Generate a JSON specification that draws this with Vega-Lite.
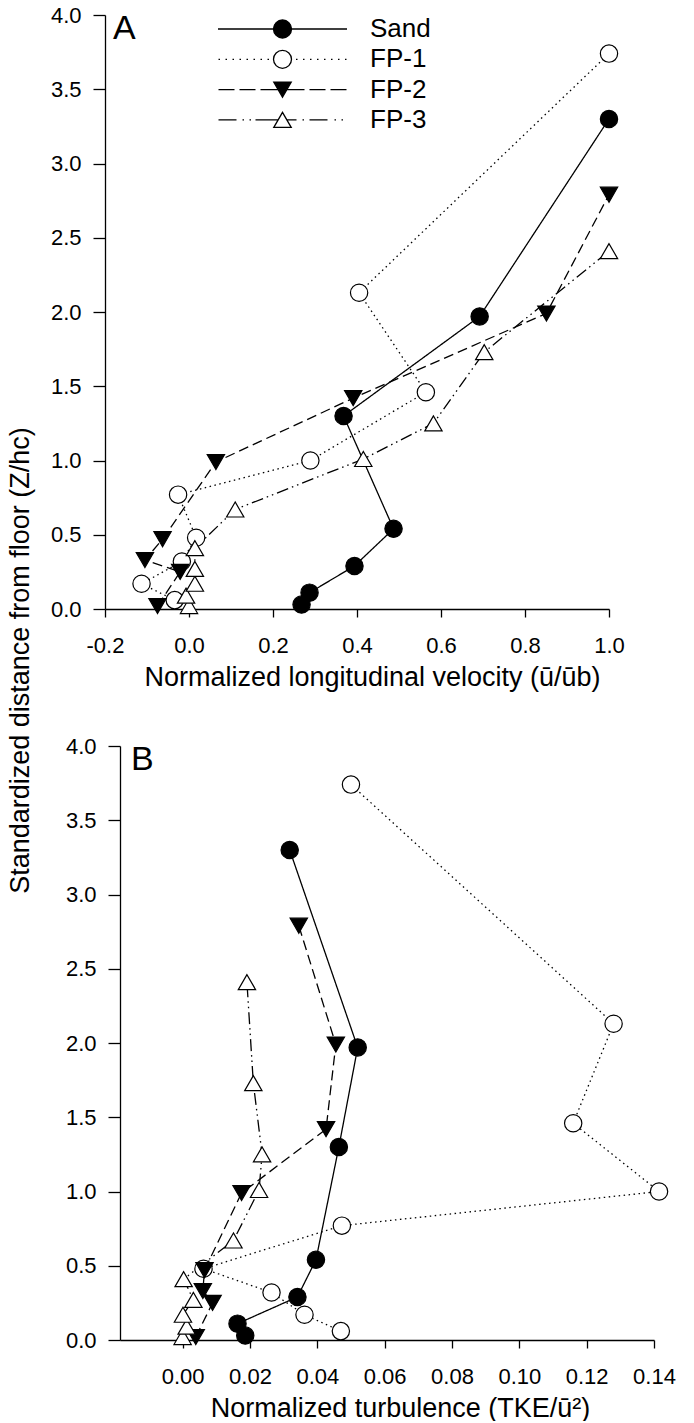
{
  "$schema": "https://vega.github.io/schema/vega-lite/v6.json",
  "background": "white",
  "padding": {"left": 6, "top": 4, "right": 0, "bottom": 0},
  "autosize": {"type": "pad"},
  "bounds": "flush",
  "spacing": 137,
  "config": {
    "font": "Liberation Sans",
    "view": {"stroke": null},
    "axis": {
      "grid": false,
      "labelFlush": false,
      "labelOverlap": false,
      "domainColor": "black", "domainWidth": 1.3,
      "tickColor": "black", "tickWidth": 1.3,
      "labelColor": "black", "labelFont": "Liberation Sans", "labelFontSize": 22,
      "titleColor": "black", "titleFont": "Liberation Sans", "titleFontSize": 27, "titleFontWeight": "normal"
    },
    "axisX": {"tickSize": 8, "labelPadding": 18, "titlePadding": 8},
    "axisY": {"tickSize": 12, "labelPadding": 12},
    "legend": {"labelFont": "Liberation Sans"},
    "title": {"font": "Liberation Sans", "fontWeight": "normal", "color": "black", "fontSize": 34}
  },
  "datasets": {
    "profiles": [
      {"series": "Sand", "z": 0.03, "u": 0.268, "tke": 0.0186},
      {"series": "Sand", "z": 0.11, "u": 0.287, "tke": 0.0163},
      {"series": "Sand", "z": 0.29, "u": 0.394, "tke": 0.0341},
      {"series": "Sand", "z": 0.54, "u": 0.487, "tke": 0.0396},
      {"series": "Sand", "z": 1.30, "u": 0.368, "tke": 0.0464},
      {"series": "Sand", "z": 1.97, "u": 0.692, "tke": 0.052},
      {"series": "Sand", "z": 3.30, "u": 1.0, "tke": 0.0318},
      {"series": "FP-1", "z": 0.06, "u": -0.034, "tke": 0.047},
      {"series": "FP-1", "z": 0.17, "u": -0.113, "tke": 0.0362},
      {"series": "FP-1", "z": 0.32, "u": -0.017, "tke": 0.0264},
      {"series": "FP-1", "z": 0.48, "u": 0.017, "tke": 0.0062},
      {"series": "FP-1", "z": 0.77, "u": -0.026, "tke": 0.0473},
      {"series": "FP-1", "z": 1.00, "u": 0.289, "tke": 0.1415},
      {"series": "FP-1", "z": 1.46, "u": 0.564, "tke": 0.116},
      {"series": "FP-1", "z": 2.13, "u": 0.405, "tke": 0.128},
      {"series": "FP-1", "z": 3.74, "u": 1.0, "tke": 0.050},
      {"series": "FP-2", "z": 0.02, "u": -0.075, "tke": 0.0039},
      {"series": "FP-2", "z": 0.25, "u": -0.021, "tke": 0.0089},
      {"series": "FP-2", "z": 0.33, "u": -0.105, "tke": 0.006},
      {"series": "FP-2", "z": 0.47, "u": -0.063, "tke": 0.0065},
      {"series": "FP-2", "z": 0.99, "u": 0.064, "tke": 0.0175},
      {"series": "FP-2", "z": 1.42, "u": 0.391, "tke": 0.0426},
      {"series": "FP-2", "z": 1.99, "u": 0.851, "tke": 0.0455},
      {"series": "FP-2", "z": 2.79, "u": 1.0, "tke": 0.0345},
      {"series": "FP-3", "z": 0.02, "u": 0.0, "tke": 0.0},
      {"series": "FP-3", "z": 0.09, "u": -0.007, "tke": 0.0012},
      {"series": "FP-3", "z": 0.17, "u": 0.014, "tke": 0.0001},
      {"series": "FP-3", "z": 0.27, "u": 0.014, "tke": 0.0032},
      {"series": "FP-3", "z": 0.41, "u": 0.014, "tke": 0.0003},
      {"series": "FP-3", "z": 0.67, "u": 0.11, "tke": 0.0151},
      {"series": "FP-3", "z": 1.01, "u": 0.415, "tke": 0.0227},
      {"series": "FP-3", "z": 1.25, "u": 0.582, "tke": 0.0236},
      {"series": "FP-3", "z": 1.73, "u": 0.703, "tke": 0.021},
      {"series": "FP-3", "z": 2.41, "u": 1.0, "tke": 0.0191}
    ]
  },
  "vconcat": [
    {
      "width": 504,
      "height": 594,
      "title": {"text": "A", "anchor": "start", "frame": "group", "orient": "top", "baseline": "top", "offset": 0, "dx": 8, "dy": 42},
      "encoding": {
        "x": {
          "field": "u", "type": "quantitative",
          "scale": {"domain": [-0.2, 1.0], "nice": false, "zero": false},
          "axis": {
            "values": [-0.2, 0, 0.2, 0.4, 0.6, 0.8, 1.0],
            "format": ".1f",
            "labelExpr": "replace(datum.label, '\u2212', '-')",
            "title": "Normalized longitudinal velocity (ū/ūb)",
            "titleX": 267
          }
        },
        "y": {
          "field": "z", "type": "quantitative",
          "scale": {"domain": [0, 4], "nice": false, "zero": false},
          "axis": {
            "values": [0, 0.5, 1, 1.5, 2, 2.5, 3, 3.5, 4],
            "format": ".1f",
            "title": "Standardized distance from floor (Z/hc)",
            "titleX": -77,
            "titleY": 645,
            "titleAngle": -90,
            "titleAlign": "center",
            "titleBaseline": "alphabetic"
          }
        }
      },
      "layer": [
        {
          "data": {"name": "profiles"},
          "mark": {"type": "line", "color": "black", "strokeWidth": 1.3},
          "encoding": {
            "order": {"field": "z", "type": "quantitative"},
            "strokeDash": {
              "field": "series", "type": "nominal",
              "sort": ["Sand", "FP-1", "FP-2", "FP-3"],
              "scale": {"range": [[1, 0], [1.5, 3.5], [10, 5], [12, 4, 1.5, 4, 1.5, 4]]},
              "legend": null
            }
          }
        },
        {
          "data": {"name": "profiles"},
          "mark": {"type": "point", "filled": true, "stroke": "black", "strokeWidth": 1.2, "size": 300, "opacity": 1},
          "encoding": {
            "shape": {
              "field": "series", "type": "nominal",
              "sort": ["Sand", "FP-1", "FP-2", "FP-3"],
              "scale": {"range": ["circle", "circle", "triangle-down", "triangle-up"]},
              "legend": null
            },
            "fill": {
              "field": "series", "type": "nominal",
              "scale": {"domain": ["Sand", "FP-1", "FP-2", "FP-3"], "range": ["black", "white", "black", "white"]},
              "legend": {
                "title": null,
                "orient": "none",
                "legendX": 112,
                "legendY": 0.5,
                "padding": 0,
                "rowPadding": 3.3,
                "symbolSize": 625,
                "symbolOffset": 52,
                "symbolStrokeWidth": 1.3,
                "symbolStrokeColor": "black",
                "symbolOpacity": 1,
                "labelFontSize": 26,
                "labelColor": "black",
                "labelOffset": 74,
                "symbolType": {"expr": "datum.value === 'Sand' ? 'M-5.16,0H5.16M-0.72,0A0.72,0.72,0,1,0,0.72,0A0.72,0.72,0,1,0,-0.72,0Z' : datum.value === 'FP-1' ? 'M-5.12,0h0.12M-4.56,0h0.12M-4,0h0.12M-3.44,0h0.12M-2.88,0h0.12M-2.32,0h0.12M-1.76,0h0.12M-1.2,0h0.12M1.08,0h0.12M1.64,0h0.12M2.2,0h0.12M2.76,0h0.12M3.32,0h0.12M3.88,0h0.12M4.44,0h0.12M5,0h0.12M-0.72,0A0.72,0.72,0,1,0,0.72,0A0.72,0.72,0,1,0,-0.72,0Z' : datum.value === 'FP-2' ? 'M-5.12,0H-3.84M-3.44,0H-2.16M-1.76,0H-0.35M0.35,0H1.76M2.16,0H3.44M3.84,0H5.12M0,0.6L0.696,-0.6L-0.696,-0.6Z' : 'M-5.12,0H-3.68M-3.2,0h0.12M-2.64,0h0.12M-2.16,0H-0.35M0.35,0H1.12M1.6,0h0.12M2.16,0H3.6M4.16,0h0.12M4.72,0h0.12M0,-0.6L0.696,0.6L-0.696,0.6Z'"}
              }
            }
          }
        }
      ]
    },
    {
      "width": 549,
      "height": 594,
      "title": {"text": "B", "anchor": "start", "frame": "group", "orient": "top", "baseline": "top", "offset": 0, "dx": 26, "dy": 42},
      "encoding": {
        "x": {
          "field": "tke", "type": "quantitative",
          "scale": {"domain": [-0.0186, 0.14], "range": [15, 549], "nice": false, "zero": false},
          "axis": {
            "values": [0, 0.02, 0.04, 0.06, 0.08, 0.1, 0.12, 0.14],
            "format": ".2f",
            "title": "Normalized turbulence (TKE/ū²)",
            "titleX": 295
          }
        },
        "y": {
          "field": "z", "type": "quantitative",
          "scale": {"domain": [0, 4], "nice": false, "zero": false},
          "axis": {
            "values": [0, 0.5, 1, 1.5, 2, 2.5, 3, 3.5, 4],
            "format": ".1f",
            "title": null,
            "offset": -15
          }
        }
      },
      "layer": [
        {
          "data": {"name": "profiles"},
          "mark": {"type": "line", "color": "black", "strokeWidth": 1.3},
          "encoding": {
            "order": {"field": "z", "type": "quantitative"},
            "strokeDash": {
              "field": "series", "type": "nominal",
              "sort": ["Sand", "FP-1", "FP-2", "FP-3"],
              "scale": {"range": [[1, 0], [1.5, 3.5], [10, 5], [12, 4, 1.5, 4, 1.5, 4]]},
              "legend": null
            }
          }
        },
        {
          "data": {"name": "profiles"},
          "mark": {"type": "point", "filled": true, "stroke": "black", "strokeWidth": 1.2, "size": 300, "opacity": 1},
          "encoding": {
            "shape": {
              "field": "series", "type": "nominal",
              "sort": ["Sand", "FP-1", "FP-2", "FP-3"],
              "scale": {"range": ["circle", "circle", "triangle-down", "triangle-up"]},
              "legend": null
            },
            "fill": {
              "field": "series", "type": "nominal",
              "scale": {"domain": ["Sand", "FP-1", "FP-2", "FP-3"], "range": ["black", "white", "black", "white"]}
            }
          }
        }
      ]
    }
  ]
}
